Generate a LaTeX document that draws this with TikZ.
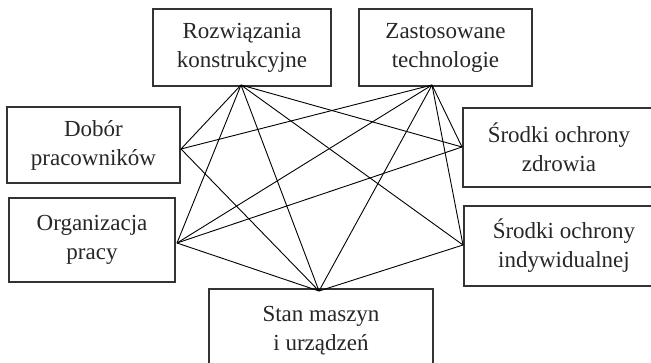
\documentclass[tikz,border=0pt]{standalone}
\usepackage{fontspec}
\setmainfont{Liberation Serif}
\begin{document}
\begin{tikzpicture}[x=1pt,y=-1pt,
  box/.style={draw=black!80,line width=1.2pt,rectangle,inner sep=0pt,align=center,
    font=\fontsize{23}{29}\selectfont,text=black!85},
  link/.style={draw=black,line width=0.9pt}]
\useasboundingbox (0,0) rectangle (651,362);
\node[box,minimum width=178pt,minimum height=77pt] (rk) at (242,47.5) {Rozwiązania\\konstrukcyjne};
\node[box,minimum width=173pt,minimum height=77pt] (zt) at (445.5,47.5) {Zastosowane\\technologie};
\node[box,minimum width=173pt,minimum height=76pt] (dp) at (93.5,145) {Dobór\\pracowników};
\node[box,minimum width=192pt,minimum height=79pt] (sz) at (559,147.5) {Środki ochrony\\zdrowia};
\node[box,minimum width=166pt,minimum height=84pt] (op) at (92,240) {Organizacja\\pracy};
\node[box,minimum width=200pt,minimum height=80pt] (si) at (564,246) {Środki ochrony\\indywidualnej};
\node[box,minimum width=224pt,minimum height=84pt] (sm) at (321,331) {Stan maszyn\\i urządzeń};
% connection hubs
\coordinate (hrk) at (241,85);
\coordinate (hzt) at (432,85);
\coordinate (hdp) at (181,149);
\coordinate (hsz) at (462,147);
\coordinate (hop) at (177,243);
\coordinate (hsi) at (463,245);
\coordinate (hsm) at (319,291);
% links
\draw[link] (hrk) -- (hdp);
\draw[link] (hrk) -- (hop);
\draw[link] (hrk) -- (hsm);
\draw[link] (hrk) -- (hsz);
\draw[link] (hrk) -- (hsi);
\draw[link] (hzt) -- (hdp);
\draw[link] (hzt) -- (hop);
\draw[link] (hzt) -- (hsm);
\draw[link] (hzt) -- (hsz);
\draw[link] (hzt) -- (hsi);
\draw[link] (hdp) -- (hsm);
\draw[link] (hop) -- (hsz);
\draw[link] (hop) -- (hsm);
\draw[link] (hsi) -- (hsm);
\end{tikzpicture}
\end{document}
